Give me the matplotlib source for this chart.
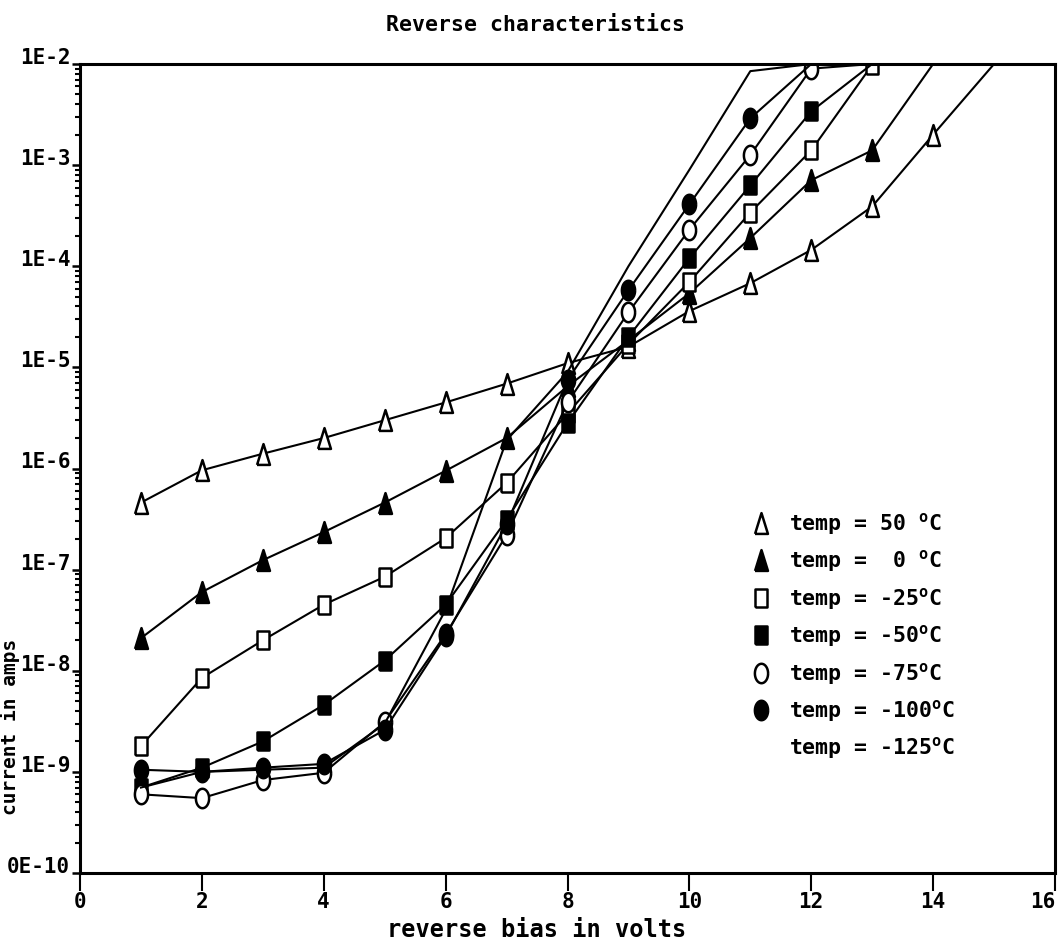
import numpy as np
import matplotlib
matplotlib.use("Agg")
import matplotlib.pyplot as plt
from matplotlib.lines import Line2D
from matplotlib.ticker import FixedLocator, LogLocator, NullFormatter

plt.rcParams['font.family'] = ['DejaVu Sans Mono', 'DejaVu Sans']
plt.rcParams['font.weight'] = 'bold'
plt.rcParams['mathtext.default'] = 'regular'

# %% data: reverse current (A) at each bias step (V); last point of a run is the 1E-2 limit
bias_p50 = np.arange(1, 16)
cur_p50 = [4.6e-7, 9.6e-7, 1.4e-6, 2.0e-6, 3.0e-6, 4.5e-6, 6.9e-6, 1.1e-5,
           1.6e-5, 3.6e-5, 6.8e-5, 1.45e-4, 3.9e-4, 2.0e-3, 1e-2]
bias_0 = np.arange(1, 15)
cur_0 = [2.1e-8, 6.0e-8, 1.24e-7, 2.35e-7, 4.6e-7, 9.5e-7, 2.0e-6, 6.5e-6,
         1.85e-5, 5.4e-5, 1.9e-4, 7.1e-4, 1.4e-3, 1e-2]
bias_m25 = np.arange(1, 15)
cur_m25 = [1.8e-9, 8.5e-9, 2.0e-8, 4.5e-8, 8.5e-8, 2.05e-7, 7.2e-7, 3.5e-6,
           1.7e-5, 7.0e-5, 3.4e-4, 1.4e-3, 9.8e-3, 1e-2]
bias_m50 = np.arange(1, 14)
cur_m50 = [7.0e-10, 1.1e-9, 2.0e-9, 4.6e-9, 1.26e-8, 4.5e-8, 3.1e-7, 2.8e-6,
           2.0e-5, 1.2e-4, 6.3e-4, 3.4e-3, 1e-2]
bias_m75 = np.arange(1, 14)
cur_m75 = [6.0e-10, 5.5e-10, 8.3e-10, 9.8e-10, 3.1e-9, 2.3e-8, 2.2e-7, 4.5e-6,
           3.5e-5, 2.3e-4, 1.26e-3, 9.0e-3, 1e-2]
bias_m100 = np.arange(1, 13)
cur_m100 = [1.05e-9, 1.0e-9, 1.1e-9, 1.2e-9, 2.6e-9, 2.2e-8, 2.8e-7, 7.5e-6,
            5.8e-5, 4.1e-4, 2.9e-3, 1e-2]
bias_m125 = np.arange(1, 13)
cur_m125 = [7.0e-10, 1.0e-9, 1.05e-9, 1.1e-9, 3.0e-9, 4.0e-8, 1.9e-6, 9.0e-6,
            1.0e-4, 9.0e-4, 8.5e-3, 1e-2]

temp_labels = ["temp = 50 $^{o}$C", "temp =  0 $^{o}$C", "temp = -25$^{o}$C",
               "temp = -50$^{o}$C", "temp = -75$^{o}$C", "temp = -100$^{o}$C",
               "temp = -125$^{o}$C"]
ytick_vals = [1e-10, 1e-9, 1e-8, 1e-7, 1e-6, 1e-5, 1e-4, 1e-3, 1e-2]
ytick_text = ["0E-10", "1E-9", "1E-8", "1E-7", "1E-6", "1E-5", "1E-4", "1E-3", "1E-2"]
xtick_vals = [0, 2, 4, 6, 8, 10, 12, 14, 16]

# %% marker shapes (tall and narrow like the plotter's)
tri = [(-0.62, -1), (0.62, -1), (0, 1), (-0.62, -1)]
rect = [(-0.45, -0.7), (0.45, -0.7), (0.45, 0.7), (-0.45, 0.7), (-0.45, -0.7)]
t = np.linspace(0, 2 * np.pi, 41)
oval = list(zip(0.68 * np.cos(t), np.sin(t)))

series = [
    (bias_p50, cur_p50, tri, 'white', 15),
    (bias_0, cur_0, tri, 'black', 15),
    (bias_m25, cur_m25, rect, 'white', 13),
    (bias_m50, cur_m50, rect, 'black', 13),
    (bias_m75, cur_m75, oval, 'white', 14),
    (bias_m100, cur_m100, oval, 'black', 14),
    (bias_m125, cur_m125, None, 'black', 14),
]

# %%
fig = plt.figure(figsize=(10.61, 9.52), dpi=100)
ax = fig.add_axes([80 / 1061, 79 / 952, 975 / 1061, 809 / 952])

handles = []
for x, y, mk, fc, ms in series:
    ax.plot(x, y, color='black', lw=1.5, marker=mk if mk else 'None',
            markevery=slice(0, len(x) - 1), ms=ms, mfc=fc, mec='black', mew=1.8)
    handles.append(Line2D([], [], ls='None', marker=mk if mk else 'None',
                          ms=ms, mfc=fc, mec='black', mew=1.8))

ax.set_yscale('log')
ax.set_xlim(0, 16)
ax.set_ylim(1e-10, 1e-2)
ax.xaxis.set_major_locator(FixedLocator(xtick_vals))
ax.set_xticklabels([str(v) for v in xtick_vals], fontsize=15)
ax.get_xticklabels()[-1].set_horizontalalignment('right')
ax.yaxis.set_major_locator(FixedLocator(ytick_vals))
ax.set_yticklabels(ytick_text, fontsize=15)
ax.yaxis.set_minor_locator(LogLocator(base=10, subs=np.arange(2, 10)))
ax.yaxis.set_minor_formatter(NullFormatter())
for lab in ax.get_yticklabels():
    lab.set_verticalalignment('baseline')

ax.tick_params(axis='x', which='major', direction='out', length=13, width=1.5, pad=1)
ax.tick_params(axis='y', which='major', direction='out', length=6, width=1.8, pad=1)
ax.tick_params(axis='y', which='minor', direction='out', length=3.5, width=1.5)
for sp in ax.spines.values():
    sp.set_linewidth(2.2)

fig.text(0.505, 0.974, "Reverse characteristics", ha='center', va='center', fontsize=15.5)
fig.text(0.506, 0.023, "reverse bias in volts", ha='center', va='center', fontsize=17)
fig.text(0.009, 0.236, "current in amps", ha='center', va='center', rotation=90, fontsize=14)

ax.legend(handles, temp_labels, loc='upper left', bbox_to_anchor=(750 / 1061, 1 - 511 / 952),
          bbox_transform=fig.transFigure, frameon=False, borderpad=0, borderaxespad=0,
          handlelength=1.0, handletextpad=0.8, labelspacing=0.53, fontsize=15.5)

fig.savefig("out.png", dpi=100)
